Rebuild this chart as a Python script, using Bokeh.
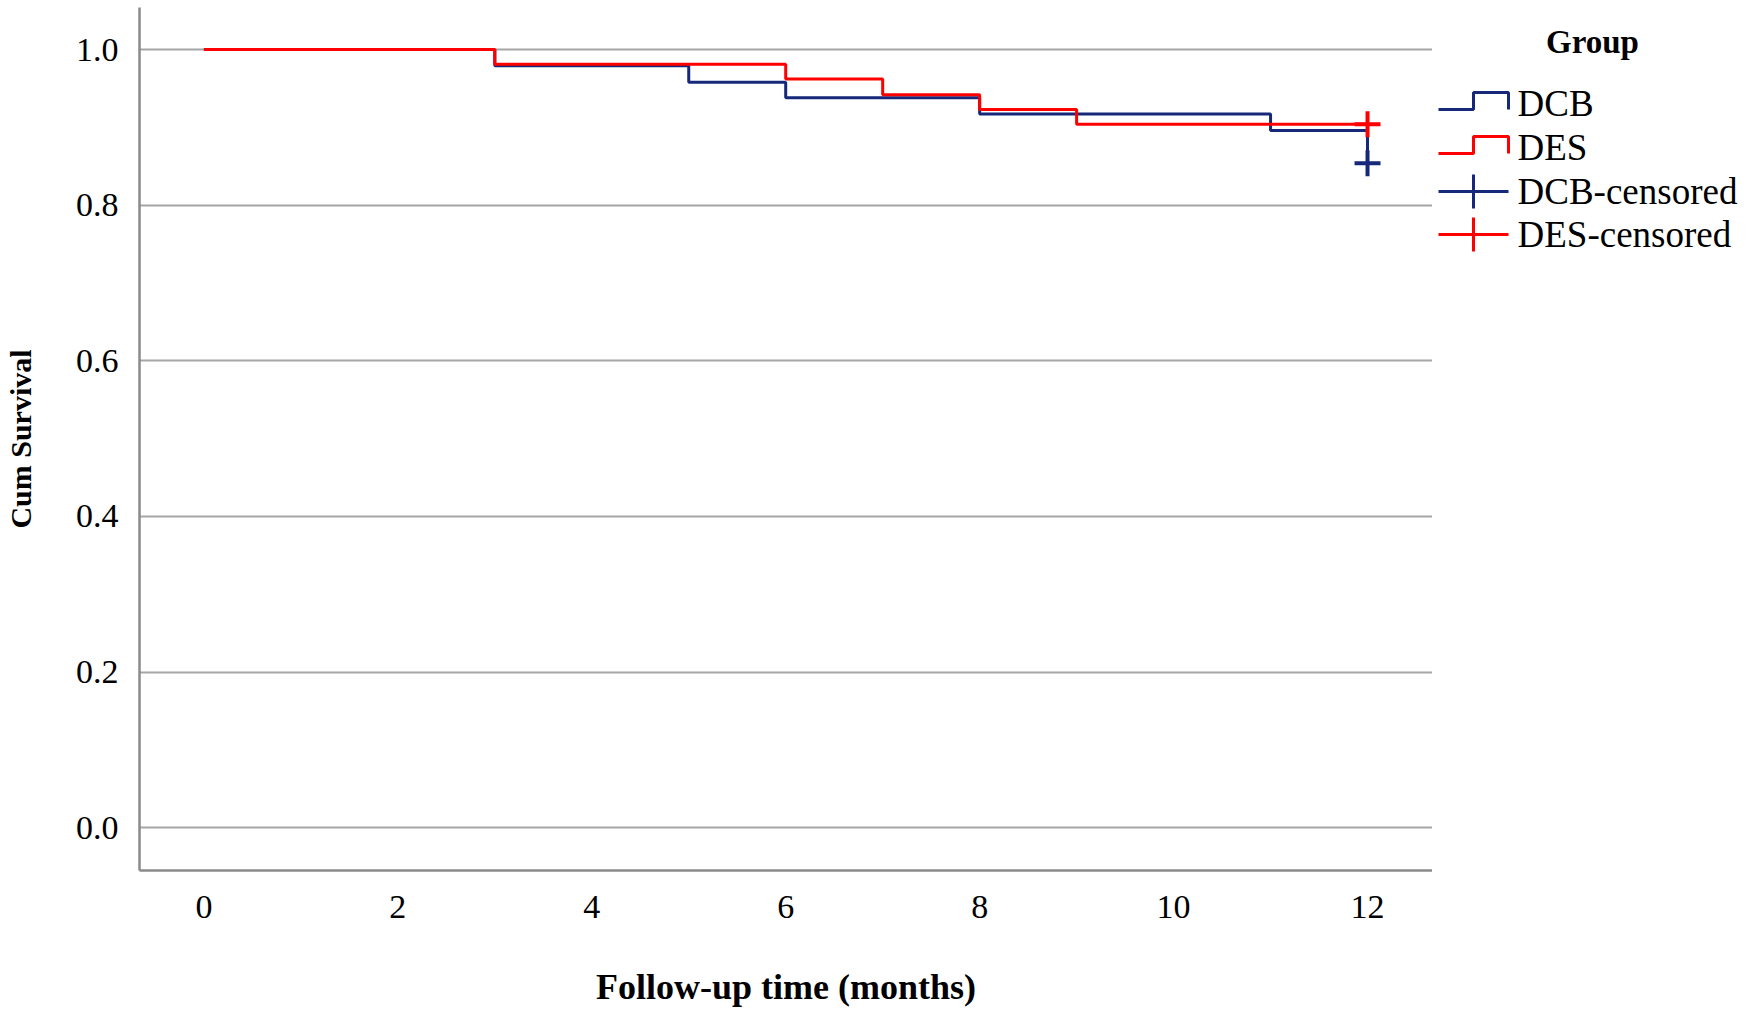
from bokeh.plotting import figure
from bokeh.layouts import row
from bokeh.models import FixedTicker, NumeralTickFormatter
from bokeh.core.properties import value
from bokeh.embed import file_html
from bokeh.resources import INLINE

# Kaplan-Meier steps
dcb_time = [0, 3, 5, 6, 8, 11, 12]
dcb_surv = [1.0, 0.979, 0.958, 0.938, 0.917, 0.896, 0.854]
des_time = [0, 3, 6, 7, 8, 9, 12]
des_surv = [1.0, 0.981, 0.962, 0.942, 0.923, 0.904, 0.904]

# censored observations
dcb_cens_t = [12]
dcb_cens_s = [0.854]
des_cens_t = [12]
des_cens_s = [0.904]

x_ticks = [0, 2, 4, 6, 8, 10, 12]
y_ticks = [0.0, 0.2, 0.4, 0.6, 0.8, 1.0]

legend_labels = ["DCB", "DES", "DCB-censored", "DES-censored"]

NAVY = "#16287a"
RED = "#ff0000"
GRID = "#a6a6a6"
SERIF = "Liberation Serif"

H = 1012
TOP = 7
BOTTOM = H - 870

p = figure(width=1432, height=H, x_range=(-0.664, 12.67), y_range=(-0.055, 1.054),
           output_backend="svg", toolbar_location=None,
           min_border_left=138, min_border_right=0, min_border_top=TOP,
           min_border_bottom=BOTTOM)
p.outline_line_color = None
p.background_fill_color = "white"

p.step(dcb_time, dcb_surv, mode="after", line_color=NAVY, line_width=3)
p.step(des_time, des_surv, mode="after", line_color=RED, line_width=3)
p.scatter(dcb_cens_t, dcb_cens_s, marker="cross", size=26, line_color=NAVY, line_width=4)
p.scatter(des_cens_t, des_cens_s, marker="cross", size=26, line_color=RED, line_width=4)

p.xgrid.visible = False
p.ygrid.ticker = FixedTicker(ticks=y_ticks)
p.ygrid.grid_line_color = GRID
p.ygrid.grid_line_width = 2

p.xaxis.ticker = FixedTicker(ticks=x_ticks)
p.yaxis.ticker = FixedTicker(ticks=y_ticks)
p.yaxis.formatter = NumeralTickFormatter(format="0.0")

for ax in (p.xaxis, p.yaxis):
    ax.axis_line_color = "#8a8a8a"
    ax.axis_line_width = 2.5
    ax.major_tick_line_color = None
    ax.minor_tick_line_color = None
    ax.major_tick_out = 0
    ax.major_tick_in = 0
    ax.major_label_text_font = SERIF
    ax.major_label_text_font_size = "34px"
    ax.major_label_text_color = "black"
    ax.axis_label_text_font = SERIF
    ax.axis_label_text_font_style = "bold"
    ax.axis_label_text_color = "black"

p.xaxis.axis_label = "Follow-up time (months)"
p.xaxis.axis_label_text_font_size = "36px"
p.xaxis.major_label_standoff = 25
p.xaxis.axis_label_standoff = 46

p.yaxis.axis_label = "Cum Survival"
p.yaxis.axis_label_text_font_size = "30px"
p.yaxis.major_label_standoff = 21
p.yaxis.axis_label_standoff = 36

# legend panel on the right, sharing the vertical scale of the plot
leg = figure(width=315, height=H, x_range=(0, 315), y_range=p.y_range,
             x_axis_type=None, y_axis_type=None,
             output_backend="svg", toolbar_location=None,
             min_border_left=0, min_border_right=0,
             min_border_top=TOP, min_border_bottom=BOTTOM)
leg.outline_line_color = None
leg.grid.visible = False

# pixel rows -> survival units (1.0 sits 42px below the frame top, 0.1 = 77.8px)
def ypx(py):
    return 1.0 - (py - 49) / 778.0

leg.text([160], [ypx(41)], text=["Group"], text_font=value(SERIF), text_font_style="bold",
         text_font_size="33px", text_align="center", text_baseline="middle", text_color="black")

row_px = [103, 147, 191, 234]
colors = [NAVY, RED, NAVY, RED]
x0, xm, x1 = 6, 41, 76
for i, lab in enumerate(legend_labels):
    cy = row_px[i]
    if i < 2:
        leg.line([x0, xm, xm, x1, x1],
                 [ypx(cy + 6), ypx(cy + 6), ypx(cy - 11), ypx(cy - 11), ypx(cy + 6)],
                 line_color=colors[i], line_width=3)
    else:
        leg.line([x0, x1], [ypx(cy), ypx(cy)], line_color=colors[i], line_width=3)
        leg.line([xm, xm], [ypx(cy - 17), ypx(cy + 17)], line_color=colors[i], line_width=3)
    leg.text([85], [ypx(cy)], text=[lab], text_font=value(SERIF), text_font_size="37px",
             text_align="left", text_baseline="middle", text_color="black")

layout = row(p, leg)
open("out.html", "w").write(file_html(layout, INLINE))
